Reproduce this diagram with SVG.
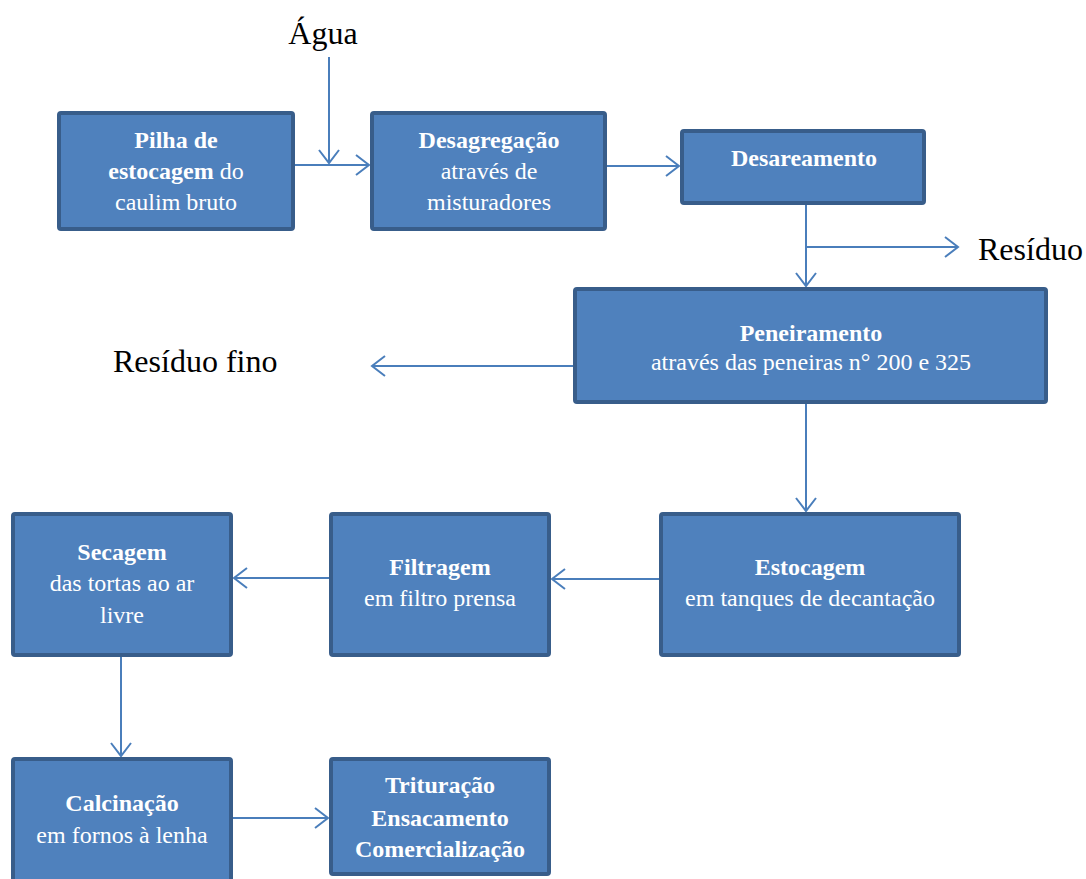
<svg xmlns="http://www.w3.org/2000/svg" width="1086" height="879" viewBox="0 0 1086 879">
<style>
.box{fill:#4F81BD;stroke:#385D8A;stroke-width:4}
.t{font-family:"Liberation Serif","Times New Roman",serif;font-size:24px;fill:#ffffff;text-anchor:middle}
.b{font-weight:bold}
.lbl{font-family:"Liberation Serif","Times New Roman",serif;font-size:32px;fill:#000000}
.c{fill:none;stroke:#4A7EBB;stroke-width:2}
</style>
<defs>
<marker id="arr" markerUnits="userSpaceOnUse" viewBox="-16 -12 18 24" refX="0" refY="0" markerWidth="18" markerHeight="24" orient="auto" overflow="visible">
<path d="M-13,-10 L0,0 L-13,10" fill="none" stroke="#4A7EBB" stroke-width="2"/>
</marker>
</defs>
<rect width="1086" height="879" fill="#ffffff"/>
<g id="connectors">
<path class="c" d="M329,57 L329,163" marker-end="url(#arr)"/>
<path class="c" d="M295,165 L369,165" marker-end="url(#arr)"/>
<path class="c" d="M607,166 L679,166" marker-end="url(#arr)"/>
<path class="c" d="M806,205 L806,286" marker-end="url(#arr)"/>
<path class="c" d="M806,247 L958,247" marker-end="url(#arr)"/>
<path class="c" d="M573,366 L372,366" marker-end="url(#arr)"/>
<path class="c" d="M806,404 L806,511" marker-end="url(#arr)"/>
<path class="c" d="M659,579 L552,579" marker-end="url(#arr)"/>
<path class="c" d="M329,578 L234,578" marker-end="url(#arr)"/>
<path class="c" d="M121,657 L121,756" marker-end="url(#arr)"/>
<path class="c" d="M233,818 L328,818" marker-end="url(#arr)"/>
</g>
<g id="label-agua"><text class="lbl" x="323" y="44" text-anchor="middle">Água</text></g>
<g id="label-residuo"><text class="lbl" x="978" y="260">Resíduo</text></g>
<g id="label-residuo-fino"><text class="lbl" x="113" y="372">Resíduo fino</text></g>
<g id="pilha">
<rect class="box" x="59" y="113" width="234" height="116" rx="2"/>
<text class="t" x="176" y="148"><tspan class="b">Pilha de</tspan></text>
<text class="t" x="176" y="179"><tspan class="b">estocagem</tspan> do</text>
<text class="t" x="176" y="210">caulim bruto</text>
</g>
<g id="desagregacao">
<rect class="box" x="372" y="113" width="233" height="116" rx="2"/>
<text class="t b" x="489" y="148">Desagregação</text>
<text class="t" x="489" y="179">através de</text>
<text class="t" x="489" y="210">misturadores</text>
</g>
<g id="desareamento">
<rect class="box" x="682" y="131" width="242" height="72" rx="2"/>
<text class="t b" x="804" y="166">Desareamento</text>
</g>
<g id="peneiramento">
<rect class="box" x="575" y="289" width="471" height="113" rx="2"/>
<text class="t b" x="811" y="341">Peneiramento</text>
<text class="t" x="811" y="370">através das peneiras n° 200 e 325</text>
</g>
<g id="estocagem">
<rect class="box" x="661" y="514" width="298" height="141" rx="2"/>
<text class="t b" x="810" y="575">Estocagem</text>
<text class="t" x="810" y="606">em tanques de decantação</text>
</g>
<g id="filtragem">
<rect class="box" x="331" y="514" width="218" height="141" rx="2"/>
<text class="t b" x="440" y="575">Filtragem</text>
<text class="t" x="440" y="606">em filtro prensa</text>
</g>
<g id="secagem">
<rect class="box" x="13" y="514" width="218" height="141" rx="2"/>
<text class="t b" x="122" y="560">Secagem</text>
<text class="t" x="122" y="591">das tortas ao ar</text>
<text class="t" x="122" y="623">livre</text>
</g>
<g id="calcinacao">
<rect class="box" x="13" y="759" width="218" height="130" rx="2"/>
<text class="t b" x="122" y="811">Calcinação</text>
<text class="t" x="122" y="843">em fornos à lenha</text>
</g>
<g id="trituracao">
<rect class="box" x="331" y="759" width="218" height="115" rx="2"/>
<text class="t b" x="440" y="793">Trituração</text>
<text class="t b" x="440" y="826">Ensacamento</text>
<text class="t b" x="440" y="857">Comercialização</text>
</g>
</svg>
